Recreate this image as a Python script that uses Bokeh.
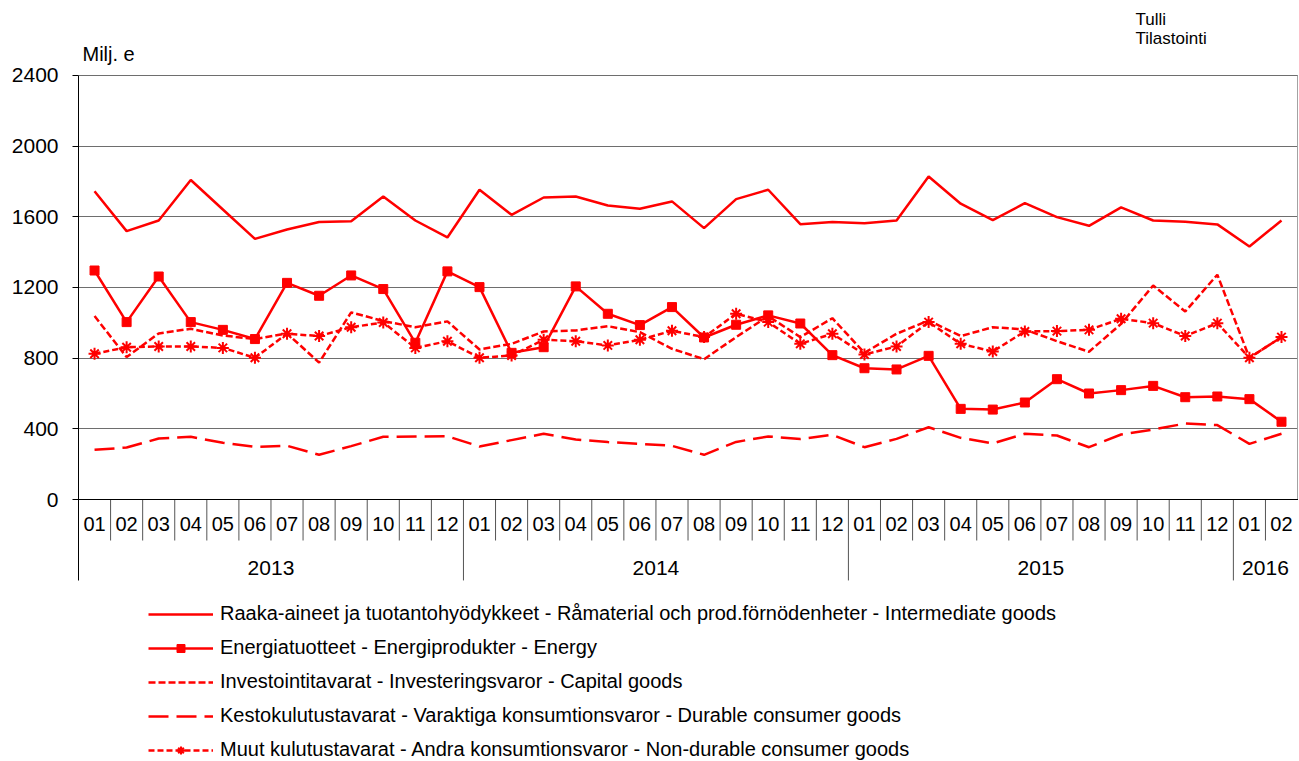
from bokeh.plotting import figure
from bokeh.models import Range1d, FixedTicker, Span, Legend, LegendItem, ColumnDataSource
from bokeh.core.properties import value
from bokeh.embed import file_html
from bokeh.resources import INLINE

# ---------------- data ----------------
months = ["01", "02", "03", "04", "05", "06", "07", "08", "09", "10", "11", "12"] * 3 + ["01", "02"]
years = ["2013", "2014", "2015", "2016"]
year_counts = [12, 12, 12, 2]

intermediate = [1745, 1519, 1579, 1808, 1641, 1475, 1528, 1570, 1575, 1715, 1579, 1483,
                1753, 1611, 1709, 1715, 1664, 1645, 1687, 1536, 1700, 1753, 1558, 1570,
                1564, 1579, 1828, 1674, 1581, 1677, 1598, 1549, 1653, 1579, 1572, 1557,
                1432, 1579]
energy = [1296, 1004, 1262, 1004, 960, 908, 1226, 1153, 1268, 1191, 887, 1291,
          1202, 830, 862, 1206, 1051, 987, 1089, 917, 989, 1042, 996, 817,
          743, 736, 813, 513, 509, 549, 681, 600, 619, 643, 579, 583,
          568, 440]
capital = [1038, 806, 940, 966, 928, 908, 940, 775, 1059, 1010, 975, 1008,
           849, 881, 951, 957, 981, 947, 853, 794, 919, 1038, 919, 1026,
           830, 938, 1013, 925, 975, 962, 896, 836, 994, 1211, 1064, 1272,
           802, 919]
durable = [281, 294, 345, 355, 321, 298, 304, 253, 302, 355, 357, 358,
           300, 336, 372, 340, 325, 315, 304, 253, 326, 357, 342, 366,
           296, 343, 409, 349, 317, 372, 362, 296, 368, 396, 430, 421,
           315, 372]
nondurable = [825, 862, 866, 866, 858, 802, 938, 925, 975, 1002, 858, 896,
              802, 815, 904, 896, 872, 904, 955, 919, 1051, 1004, 881, 938,
              821, 866, 1004, 881, 838, 951, 953, 960, 1023, 998, 925, 998,
              802, 919]

labels = [
    "Raaka-aineet ja tuotantohyödykkeet - Råmaterial och prod.förnödenheter - Intermediate goods",
    "Energiatuotteet - Energiprodukter - Energy",
    "Investointitavarat - Investeringsvaror - Capital goods",
    "Kestokulutustavarat - Varaktiga konsumtionsvaror - Durable consumer goods",
    "Muut kulutustavarat - Andra konsumtionsvaror - Non-durable consumer goods",
]
y_ticks = [0, 400, 800, 1200, 1600, 2000, 2400]
unit_label = "Milj. e"
source_lines = ["Tulli", "Tilastointi"]

# ---------------- figure ----------------
FONT = "Liberation Sans"
RED = "#ff0000"
n = len(months)
x = list(range(n))

p = figure(width=1298, height=760, output_backend="svg", toolbar_location=None,
           x_range=Range1d(-0.5, n - 0.47), y_range=Range1d(-1477, 2824),
           x_axis_location=None, min_border_left=78, min_border_right=0,
           min_border_top=0, min_border_bottom=0)
p.outline_line_color = None
p.background_fill_color = "white"
p.border_fill_color = "white"

p.xgrid.visible = False
p.ygrid.ticker = FixedTicker(ticks=y_ticks[1:])
p.ygrid.grid_line_color = "#6e6e6e"
p.ygrid.grid_line_width = 1

ax = p.yaxis[0]
ax.ticker = FixedTicker(ticks=y_ticks)
ax.bounds = (-458, max(y_ticks))
ax.axis_line_color = "black"
ax.major_tick_line_color = "black"
ax.major_tick_out = 6
ax.major_tick_in = 0
ax.minor_tick_line_color = None
ax.major_label_text_font = FONT
ax.major_label_text_font_size = "21px"
ax.major_label_text_color = "black"
ax.major_label_standoff = 14

p.add_layout(Span(location=0, dimension="width", line_color="black", line_width=1))

# right border of plot area
p.segment(x0=[n - 0.5], y0=[0], x1=[n - 0.5], y1=[max(y_ticks)], line_color="#a0a0a0", line_width=1)

# category axis boxes
sep_x, sep_y1 = [], []
for i in range(n - 1):
    sep_x.append(i + 0.5)
    sep_y1.append(-458 if months[i + 1] == "01" else -232)
p.segment(x0=sep_x, y0=[0] * len(sep_x), x1=sep_x, y1=sep_y1, line_color="#555555", line_width=1)

msrc = ColumnDataSource(dict(x=x, y=[-141] * n, t=months))
p.text(x="x", y="y", text="t", source=msrc, text_align="center", text_baseline="middle",
       text_font=value(FONT), text_font_size="20px", text_color="black")

ycenters, start = [], 0
for c in year_counts:
    ycenters.append(start + (c - 1) / 2)
    start += c
ysrc = ColumnDataSource(dict(x=ycenters, y=[-385] * len(years), t=years))
p.text(x="x", y="y", text="t", source=ysrc, text_align="center", text_baseline="middle",
       text_font=value(FONT), text_font_size="21px", text_color="black")

# ---------------- series ----------------
LW = 2.5
r1 = p.line(x, intermediate, line_color=RED, line_width=LW)
r4 = p.line(x, durable, line_color=RED, line_width=LW, line_dash="20 8")
r3 = p.line(x, capital, line_color=RED, line_width=LW, line_dash="7 3")
r5l = p.line(x, nondurable, line_color=RED, line_width=LW, line_dash="6 3")
r5m = p.scatter(x, nondurable, marker="asterisk", size=12, line_color=RED, line_width=2)
r2l = p.line(x, energy, line_color=RED, line_width=LW)
r2m = p.scatter(x, energy, marker="square", size=9, fill_color=RED, line_color=RED)

legend = Legend(items=[
    LegendItem(label=labels[0], renderers=[r1]),
    LegendItem(label=labels[1], renderers=[r2l, r2m]),
    LegendItem(label=labels[2], renderers=[r3]),
    LegendItem(label=labels[3], renderers=[r4]),
    LegendItem(label=labels[4], renderers=[r5l, r5m]),
], location=(70, -1), orientation="vertical", glyph_width=65, glyph_height=20,
    label_height=20, label_standoff=7, spacing=11, padding=0, margin=0,
    border_line_color=None, background_fill_alpha=0,
    label_text_font=FONT, label_text_font_size="20px", label_text_color="black")
p.add_layout(legend)

# ---------------- texts ----------------
p.text(x=[-0.375], y=[2519], text=[unit_label], text_align="left", text_baseline="middle",
       text_font=value(FONT), text_font_size="20px", text_color="black")
p.text(x=[32.45, 32.45], y=[2768, 2660], text=source_lines, text_align="left", text_baseline="top",
       text_font=value(FONT), text_font_size="17px", text_color="black")

open("out.html", "w").write(file_html(p, INLINE))
